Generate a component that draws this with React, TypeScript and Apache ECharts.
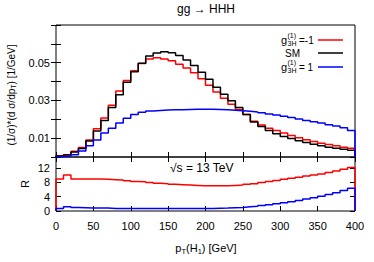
import React, { useEffect, useRef } from "react";
import * as echarts from "echarts";

const binEdges = [0, 10, 20, 30, 40, 50, 60, 70, 80, 90, 100, 110, 120, 130, 140, 150, 160, 170, 180, 190, 200, 210, 220, 230, 240, 250, 260, 270, 280, 290, 300, 310, 320, 330, 340, 350, 360, 370, 380, 390, 400];

const smDist = [0.0005, 0.0010, 0.0027, 0.0045, 0.0085, 0.0138, 0.0194, 0.0262, 0.0330, 0.0397, 0.0452, 0.0497, 0.0535, 0.0551, 0.0558, 0.0553, 0.0538, 0.0515, 0.0485, 0.0450, 0.0412, 0.0370, 0.0333, 0.0298, 0.0262, 0.0226, 0.0185, 0.0162, 0.0141, 0.0123, 0.0109, 0.0098, 0.0086, 0.0077, 0.0067, 0.0059, 0.0052, 0.0046, 0.0041, 0.0036];

const gm1Dist = [0.0005, 0.0012, 0.0030, 0.0050, 0.0090, 0.0150, 0.0207, 0.0275, 0.0350, 0.0406, 0.0457, 0.0496, 0.0520, 0.0526, 0.0520, 0.0510, 0.0492, 0.0472, 0.0447, 0.0415, 0.0380, 0.0345, 0.0312, 0.0280, 0.0252, 0.0226, 0.0190, 0.0170, 0.0153, 0.0140, 0.0127, 0.0114, 0.0102, 0.0091, 0.0082, 0.0073, 0.0066, 0.0059, 0.0052, 0.0046];

const gp1Dist = [0.0002, 0.0005, 0.0012, 0.0032, 0.0059, 0.0090, 0.0127, 0.0153, 0.0180, 0.0205, 0.0225, 0.0237, 0.0244, 0.0247, 0.0249, 0.0250, 0.0251, 0.0252, 0.0253, 0.0253, 0.0253, 0.0252, 0.0250, 0.0248, 0.0245, 0.0242, 0.0239, 0.0234, 0.0228, 0.0223, 0.0216, 0.0209, 0.0201, 0.0194, 0.0187, 0.0180, 0.0171, 0.0164, 0.0155, 0.0141];

const gm1Ratio = [8.9, 10.0, 8.9, 8.9, 8.9, 8.9, 8.8, 8.7, 8.6, 8.4, 8.2, 8.1, 7.9, 7.7, 7.6, 7.4, 7.3, 7.2, 7.1, 7.0, 7.0, 7.0, 7.0, 7.1, 7.2, 7.4, 7.6, 7.9, 8.2, 8.5, 8.8, 9.1, 9.4, 9.7, 10.0, 10.3, 10.7, 11.1, 11.6, 12.1];

const gp1Ratio = [0.7, 1.2, 1.0, 0.9, 0.8, 0.8, 0.8, 0.7, 0.7, 0.7, 0.7, 0.7, 0.7, 0.7, 0.7, 0.7, 0.7, 0.7, 0.7, 0.7, 0.7, 0.75, 0.8, 0.9, 1.0, 1.15, 1.3, 1.5, 1.75, 2.0, 2.3, 2.6, 2.9, 3.3, 3.7, 4.1, 4.6, 5.1, 5.7, 6.3];

const xTicks = [0, 50, 100, 150, 200, 250, 300, 350, 400];
const mainYLabels = ["0.01", "0.03", "0.05"];
const ratioYTicks = [0, 4, 8, 12];

function steps(vals: number[]): number[][] {
  const pts: number[][] = [[binEdges[0], 0]];
  vals.forEach((v, i) => {
    pts.push([binEdges[i], v]);
    pts.push([binEdges[i + 1], v]);
  });
  pts.push([binEdges[vals.length], 0]);
  return pts;
}

const FONT = "Liberation Sans, Arial, sans-serif";
const RED = "#ff0000";
const BLUE = "#0000ff";
const BLACK = "#000000";

function legendLabel(x: number, y: number, val: string) {
  return [
    { type: "text", x, y, style: { text: "g", font: `11px ${FONT}`, fill: BLACK, verticalAlign: "middle" } },
    { type: "text", x: x + 6.5, y: y - 5, style: { text: "(1)", font: `7px ${FONT}`, fill: BLACK, verticalAlign: "middle" } },
    { type: "text", x: x + 6.5, y: y + 3.5, style: { text: "3H", font: `7px ${FONT}`, fill: BLACK, verticalAlign: "middle" } },
    { type: "text", x: x + 18, y, style: { text: val, font: `10px ${FONT}`, fill: BLACK, verticalAlign: "middle" } },
  ];
}

export default function App() {
  const ref = useRef<HTMLDivElement>(null);
  useEffect(() => {
    if (!ref.current) return;
    const chart = echarts.init(ref.current, null, { renderer: "svg" });
    const axisCommon = {
      axisLine: { show: false },
      splitLine: { show: false },
      axisTick: { inside: true, length: 5, lineStyle: { color: BLACK, width: 1 } },
    };
    const gridL = 56, gridW = 299;
    const option: any = {
      animation: false,
      backgroundColor: "#fff",
      grid: [
        { left: gridL, top: 25, width: gridW, height: 132, show: true, borderColor: BLACK, borderWidth: 1, backgroundColor: "transparent" },
        { left: gridL, top: 157, width: gridW, height: 54, show: true, borderColor: BLACK, borderWidth: 1, backgroundColor: "transparent" },
      ],
      xAxis: [
        { ...axisCommon, type: "value", gridIndex: 0, min: 0, max: 400, interval: 50, position: "bottom", axisLabel: { show: false } },
        { ...axisCommon, type: "value", gridIndex: 0, min: 0, max: 400, interval: 50, position: "top", axisLabel: { show: false } },
        {
          ...axisCommon, type: "value", gridIndex: 1, min: 0, max: 400, interval: 50, position: "bottom",
          axisLabel: {
            show: true, margin: 9, fontSize: 11, fontFamily: FONT, color: BLACK,
            formatter: (v: number) => (xTicks.indexOf(v) >= 0 ? String(v) : ""),
          },
        },
      ],
      yAxis: [
        {
          ...axisCommon, type: "value", gridIndex: 0, min: 0, max: 0.07, interval: 0.01, position: "left",
          axisLabel: {
            show: true, margin: 6, fontSize: 11, fontFamily: FONT, color: BLACK,
            formatter: (v: number) => {
              const s = v.toFixed(2);
              return mainYLabels.indexOf(s) >= 0 ? s : "";
            },
          },
        },
        { ...axisCommon, type: "value", gridIndex: 0, min: 0, max: 0.07, interval: 0.01, position: "right", axisLabel: { show: false } },
        {
          ...axisCommon, type: "value", gridIndex: 1, min: 0, max: 15, interval: 4, position: "left",
          axisLabel: {
            show: true, margin: 6, fontSize: 11, fontFamily: FONT, color: BLACK, showMaxLabel: false,
            formatter: (v: number) => (ratioYTicks.indexOf(v) >= 0 ? String(v) : ""),
          },
        },
        { ...axisCommon, type: "value", gridIndex: 1, min: 0, max: 15, interval: 4, position: "right", axisLabel: { show: false } },
      ],
      series: [
        { type: "line", xAxisIndex: 0, yAxisIndex: 0, data: steps(gm1Dist), showSymbol: false, lineStyle: { color: RED, width: 1.5 }, z: 2 },
        { type: "line", xAxisIndex: 0, yAxisIndex: 0, data: steps(smDist), showSymbol: false, lineStyle: { color: BLACK, width: 1.5 }, z: 3 },
        { type: "line", xAxisIndex: 0, yAxisIndex: 0, data: steps(gp1Dist), showSymbol: false, lineStyle: { color: BLUE, width: 1.5 }, z: 4 },
        { type: "line", xAxisIndex: 2, yAxisIndex: 2, data: steps(gm1Ratio), showSymbol: false, lineStyle: { color: RED, width: 1.5 }, z: 2 },
        { type: "line", xAxisIndex: 2, yAxisIndex: 2, data: steps(gp1Ratio), showSymbol: false, lineStyle: { color: BLUE, width: 1.5 }, z: 3 },
      ],
      graphic: [
        { type: "text", x: 206, y: 9, style: { text: "gg \u2192 HHH", font: `12px ${FONT}`, fill: BLACK, align: "center", verticalAlign: "middle" } },
        {
          type: "text", x: 11, y: 95, rotation: Math.PI / 2,
          style: {
            text: "{a|(1/\u03c3)*(d \u03c3/dp}{s|T}{a|) [1/GeV]}",
            align: "center", verticalAlign: "middle", fill: BLACK,
            rich: {
              a: { fontSize: 10, fontFamily: FONT, fill: BLACK },
              s: { fontSize: 7, fontFamily: FONT, fill: BLACK, padding: [5, 0, 0, 0] },
            },
          },
        },
        { type: "text", x: 25, y: 184, rotation: Math.PI / 2, style: { text: "R", font: `11px ${FONT}`, fill: BLACK, align: "center", verticalAlign: "middle" } },
        { type: "text", x: 170, y: 168, style: { text: "\u221as = 13 TeV", font: `12px ${FONT}`, fill: BLACK, verticalAlign: "middle" } },
        {
          type: "text", x: 206, y: 248,
          style: {
            text: "{a|p}{s|T}{a|(H}{s|1}{a|) [GeV]}",
            align: "center", verticalAlign: "middle", fill: BLACK,
            rich: {
              a: { fontSize: 11, fontFamily: FONT, fill: BLACK },
              s: { fontSize: 7.5, fontFamily: FONT, fill: BLACK, padding: [6, 0, 0, 0] },
            },
          },
        },
        ...legendLabel(281, 40, "=-1"),
        { type: "line", shape: { x1: 318, y1: 40, x2: 343, y2: 40 }, style: { stroke: RED, lineWidth: 1.5 } },
        { type: "text", x: 285, y: 53, style: { text: "SM", font: `10px ${FONT}`, fill: BLACK, verticalAlign: "middle" } },
        { type: "line", shape: { x1: 318, y1: 53, x2: 343, y2: 53 }, style: { stroke: BLACK, lineWidth: 1.5 } },
        ...legendLabel(281, 67, "= 1"),
        { type: "line", shape: { x1: 318, y1: 67, x2: 343, y2: 67 }, style: { stroke: BLUE, lineWidth: 1.5 } },
      ],
    };
    chart.setOption(option);
    return () => chart.dispose();
  }, []);
  return <div ref={ref} style={{ width: 374, height: 262, position: "absolute", left: 0, top: 0 }} />;
}
